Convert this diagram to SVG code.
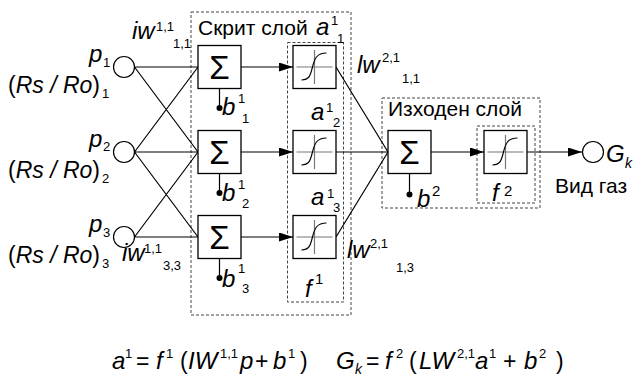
<svg xmlns="http://www.w3.org/2000/svg" width="633" height="377" viewBox="0 0 633 377">
<style>
text{font-family:"Liberation Sans",Arial,sans-serif;fill:#000}
.t{font-size:21px}
.m{font-size:24px;font-style:italic}
.s{font-size:13px}
.s2{font-size:15px}
.si{font-size:14px;font-style:italic}
.r{font-size:23px}
.sig{font-size:33px;text-anchor:middle}
.box{fill:#fff;stroke:#000;stroke-width:1.3}
.dash{fill:none;stroke:#444;stroke-width:1;stroke-dasharray:3 2}
.ln{fill:none;stroke:#000;stroke-width:1.2}
.arr{fill:none;stroke:#000;stroke-width:1.2;marker-end:url(#ah)}
.node{fill:#fff;stroke:#000;stroke-width:1.2}
.dot{fill:#000}
.ax{stroke:#777;stroke-width:1.2;fill:none}
.cv{stroke:#000;stroke-width:1.2;fill:none}
</style>
<defs>
<marker id="ah" viewBox="0 0 14 9" refX="14" refY="4.5" markerWidth="14" markerHeight="9" markerUnits="userSpaceOnUse" orient="auto">
<path d="M0,0 L14,4.5 L0,9 z" fill="#000"/>
</marker>
<g id="sigm">
<path class="ax" d="M-18,0 H18 M0,-17 V17"/>
<path class="cv" d="M-13,13 C-5,13 -4,8 -2,0 S2,-14 12,-14"/>
</g>
</defs>

<g id="layers">
<rect class="dash" x="191" y="12" width="160" height="303"/>
<rect class="dash" x="287.5" y="42.5" width="56" height="259.5"/>
<rect class="dash" x="382" y="98" width="158" height="110"/>
<rect class="dash" x="477" y="126" width="58" height="77"/>
<text class="t" x="198" y="35">Скрит слой</text>
<text class="t" x="388" y="116">Изходен слой</text>
</g>

<g id="connectors">
<path class="ln" d="M134.5,67 L198,67 M134.5,67 L198,152 M134.5,152 L198,67 M134.5,152 L198,152 M134.5,152 L198,237 M134.5,237 L198,152 M134.5,237 L198,237"/>
<path class="arr" d="M241,67 L293,67"/>
<path class="arr" d="M241,152 L293,152"/>
<path class="arr" d="M241,237 L293,237"/>
<path class="ln" d="M219.5,88.5 V108 M219.5,173.5 V193 M219.5,258.5 V278"/>
<path class="ln" d="M336,67 L388,152 M336,152 L388,152 M336,237 L388,152"/>
<path class="arr" d="M431,152 L484,152"/>
<path class="ln" d="M409.5,173.5 V194.5"/>
<path class="arr" d="M527,152 L582,152"/>
</g>

<g id="in1">
<circle class="node" cx="124" cy="67" r="10.5"/>
<text class="m" x="89" y="62">p</text><text class="s" x="103" y="67">1</text>
<text class="r" x="8" y="93">(<tspan font-style="italic">Rs / Ro</tspan>)</text><text class="s" x="102" y="98">1</text>
</g>
<g id="in2">
<circle class="node" cx="124" cy="152" r="10.5"/>
<text class="m" x="89" y="147">p</text><text class="s" x="103" y="151">2</text>
<text class="r" x="8" y="178">(<tspan font-style="italic">Rs / Ro</tspan>)</text><text class="s" x="102" y="183">2</text>
</g>
<g id="in3">
<circle class="node" cx="124" cy="237" r="10.5"/>
<text class="m" x="89" y="232">p</text><text class="s" x="103" y="237">3</text>
<text class="r" x="8" y="263">(<tspan font-style="italic">Rs / Ro</tspan>)</text><text class="s" x="102" y="268">3</text>
</g>

<g id="w-labels">
<text class="m" x="132" y="39">iw</text><text class="s" x="156" y="31">1,1</text><text class="s" x="173" y="48">1,1</text>
<text class="m" x="122" y="261">iw</text><text class="s" x="144" y="253">1,1</text><text class="s" x="163" y="270">3,3</text>
<text class="m" x="357" y="73">lw</text><text class="s" x="382" y="62">2,1</text><text class="s" x="402" y="83">1,1</text>
<text class="m" x="347" y="258">lw</text><text class="s" x="370" y="248">2,1</text><text class="s" x="396" y="272">1,3</text>
</g>

<g id="sum1">
<rect class="box" x="198" y="45.5" width="43" height="43"/>
<text class="sig" x="219.5" y="79">Σ</text>
<circle class="dot" cx="219.5" cy="108" r="3"/>
<text class="m" x="222" y="115">b</text><text class="s" x="238" y="103">1</text><text class="s" x="242" y="123">1</text>
</g>
<g id="sum2">
<rect class="box" x="198" y="130.5" width="43" height="43"/>
<text class="sig" x="219.5" y="164">Σ</text>
<circle class="dot" cx="219.5" cy="193" r="3"/>
<text class="m" x="222" y="201">b</text><text class="s" x="238" y="189">1</text><text class="s" x="242" y="208">2</text>
</g>
<g id="sum3">
<rect class="box" x="198" y="215.5" width="43" height="43"/>
<text class="sig" x="219.5" y="249">Σ</text>
<circle class="dot" cx="219.5" cy="278" r="3"/>
<text class="m" x="222" y="287">b</text><text class="s" x="238" y="273">1</text><text class="s" x="242" y="293">3</text>
</g>

<g id="f1-1">
<rect class="box" x="293" y="45.5" width="43" height="43"/>
<use href="#sigm" x="314.5" y="67"/>
<text class="m" x="316" y="35">a</text><text class="s" x="331" y="25">1</text><text class="s" x="337" y="43">1</text>
</g>
<g id="f1-2">
<rect class="box" x="293" y="130.5" width="43" height="43"/>
<use href="#sigm" x="314.5" y="152"/>
<text class="m" x="311" y="120">a</text><text class="s" x="326" y="112">1</text><text class="s" x="333" y="127">2</text>
</g>
<g id="f1-3">
<rect class="box" x="293" y="215.5" width="43" height="43"/>
<use href="#sigm" x="314.5" y="237"/>
<text class="m" x="311" y="205">a</text><text class="s" x="327" y="198">1</text><text class="s" x="333" y="212">3</text>
</g>
<g id="f1-label">
<text class="m" x="305" y="297">f</text><text class="s2" x="315" y="284">1</text>
</g>

<g id="sum-out">
<rect class="box" x="388" y="130.5" width="43" height="43"/>
<text class="sig" x="409.5" y="164">Σ</text>
<circle class="dot" cx="409.5" cy="194.5" r="3"/>
<text class="m" x="417" y="207">b</text><text class="s2" x="432" y="196">2</text>
</g>
<g id="f2">
<rect class="box" x="484" y="130.5" width="43" height="43"/>
<use href="#sigm" x="505.5" y="152"/>
<text class="m" x="492" y="201">f</text><text class="s2" x="504" y="196">2</text>
</g>
<g id="out">
<circle class="node" cx="593" cy="152" r="10.5"/>
<text class="m" x="606" y="162">G</text><text class="si" x="625" y="168">k</text>
<text class="t" x="555" y="193">Вид газ</text>
</g>

<g id="formula">
<text class="m" x="112" y="369">a</text><text class="s" x="125" y="358">1</text>
<text class="r" x="136" y="369">=</text>
<text class="m" x="156" y="369">f</text><text class="s" x="166" y="358">1</text>
<text class="r" x="180" y="369">(</text>
<text class="m" x="188" y="369">IW</text><text class="s" x="220" y="358">1,1</text>
<text class="m" x="240" y="369">p</text>
<text class="r" x="255" y="369">+</text>
<text class="m" x="273" y="369">b</text><text class="s" x="288" y="358">1</text>
<text class="r" x="300" y="369">)</text>
<text class="m" x="336" y="369">G</text><text class="si" x="355" y="374">k</text>
<text class="r" x="366" y="369">=</text>
<text class="m" x="385" y="369">f</text><text class="s" x="396" y="358">2</text>
<text class="r" x="409" y="369">(</text>
<text class="m" x="419" y="369">LW</text><text class="s" x="457" y="358">2,1</text>
<text class="m" x="475" y="369">a</text><text class="s" x="489" y="358">1</text>
<text class="r" x="503" y="369">+</text>
<text class="m" x="524" y="369">b</text><text class="s" x="539" y="358">2</text>
<text class="r" x="556" y="369">)</text>
</g>
</svg>
